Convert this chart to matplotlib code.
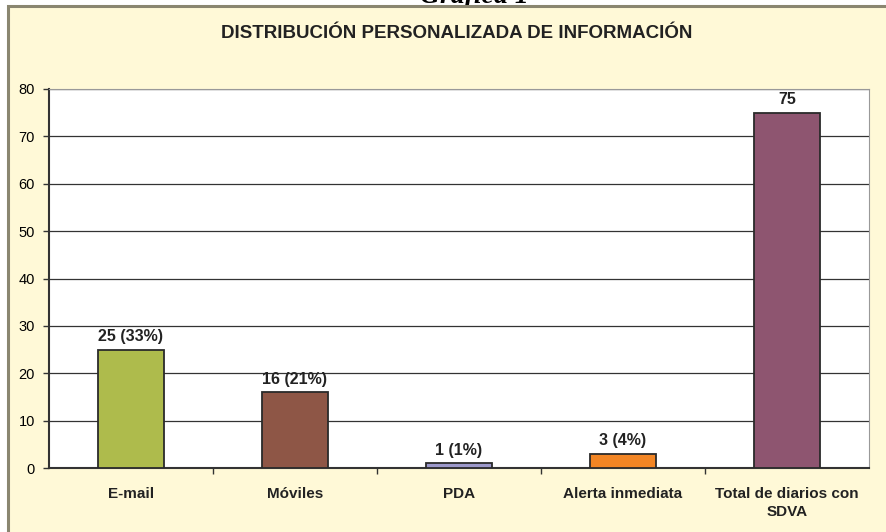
import numpy as np
import matplotlib.pyplot as plt
from matplotlib.patches import Rectangle

categorias = ['E-mail', 'Móviles', 'PDA', 'Alerta inmediata', 'Total de diarios con\nSDVA']
valores = [25, 16, 1, 3, 75]
etiquetas = ['25 (33%)', '16 (21%)', '1 (1%)', '3 (4%)', '75']
colores = ['#AEBB4C', '#8E5646', '#9C98CA', '#F28524', '#8E5570']

plt.rcParams['font.family'] = ['Liberation Sans', 'DejaVu Sans']

fig = plt.figure(figsize=(8.87, 5.32), dpi=100)

# texto de la grafica, tapado en parte por el panel
fig.text(0.535, 1.006, 'Gráfica 1', ha='center', va='center', fontsize=20,
         fontweight='bold', style='italic', family='Liberation Serif', zorder=1)
panel = Rectangle((8 / 887, -0.05), 1.05, 1.05 - 6 / 532, transform=fig.transFigure,
                  facecolor='#FFF9D7', edgecolor='#8A8670', linewidth=2.2, zorder=2)
fig.patches.append(panel)

ax = fig.add_axes([49 / 887, 1 - 468 / 532, 820 / 887, 379 / 532])
ax.set_zorder(3)
ax.set_facecolor('white')

x = np.arange(len(categorias))
ax.bar(x, valores, width=0.4, color=colores, edgecolor='#2a2a2a', linewidth=1.3, zorder=3)
for xi, v, t in zip(x, valores, etiquetas):
    ax.text(xi, v + 1.2, t, ha='center', va='bottom', fontsize=11.5, fontweight='bold',
            color='#222222')

ax.set_xlim(-0.5, len(categorias) - 0.5)
ax.set_ylim(0, 80)
ax.set_yticks(range(0, 81, 10))
ax.yaxis.grid(True, color='#333333', linewidth=0.9)
ax.set_axisbelow(True)
ax.tick_params(axis='y', labelsize=10.5, length=4, width=1, color='#333333', pad=6)

ax.set_xticks(x)
ax.set_xticklabels(categorias, fontsize=11, fontweight='bold', color='#222222',
                   linespacing=1.3)
ax.tick_params(axis='x', length=0, pad=14)
ax.set_xticks(np.arange(0.5, len(categorias) - 0.5), minor=True)
ax.tick_params(axis='x', which='minor', length=4, width=1, color='#333333')

for lado in ['left', 'bottom']:
    ax.spines[lado].set_color('#333333')
    ax.spines[lado].set_linewidth(1.5)
ax.spines['top'].set_color('#999999')
ax.spines['right'].set_color('#999999')

fig.text(0.515, 1 - 33 / 532, 'DISTRIBUCIÓN PERSONALIZADA DE INFORMACIÓN', ha='center',
         va='center', fontsize=13.5, fontweight='bold', color='#222222', zorder=4)

fig.savefig('out.png', dpi=100)
